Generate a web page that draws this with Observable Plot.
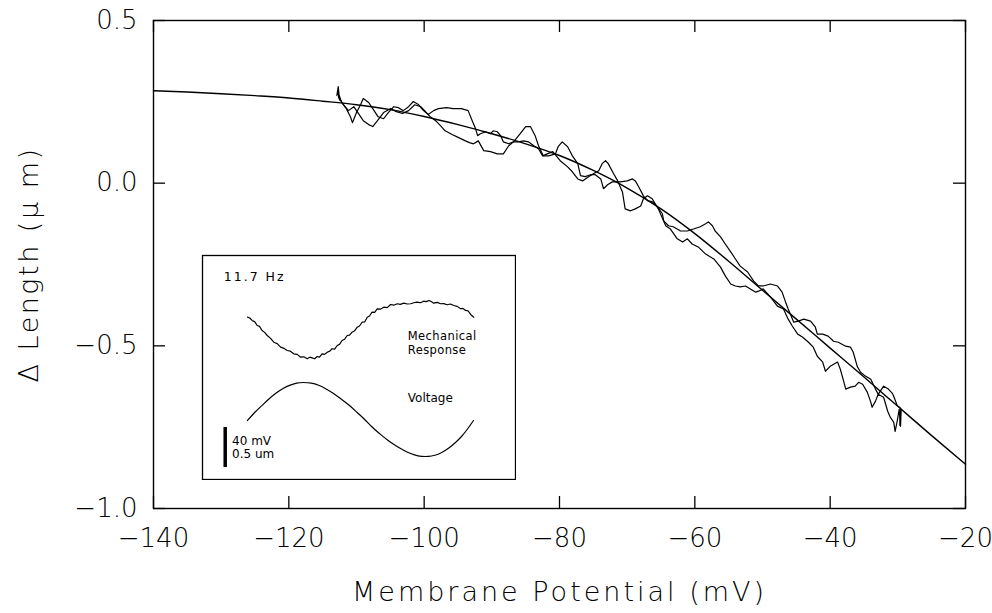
<!DOCTYPE html>
<html><head><meta charset="utf-8">
<script src="https://cdn.jsdelivr.net/npm/d3@7"></script>
<script src="https://cdn.jsdelivr.net/npm/@observablehq/plot@0.6"></script>
<style>
body{margin:0;background:#fff;}
#wrap{position:relative;width:992px;height:613px;}
.inset{position:absolute;left:201px;top:254px;}
</style></head><body><div id="wrap"></div>
<script>
// ---------- data ----------
const xTicks = [-140, -120, -100, -80, -60, -40, -20];
const yTicks = [0.5, 0.0, -0.5, -1.0];

// Boltzmann-like fit curve (mV, µm)
const fitMV = [-140,-135,-130,-125,-120,-115,-110,-105,-100,-95,-90,-85,-80,-75,-70,-65,-60,-55,-50,-45,-40,-35,-30,-25,-20];
const fitDL = [0.284,0.280,0.275,0.269,0.262,0.252,0.241,0.226,0.205,0.180,0.152,0.121,0.085,0.039,-0.015,-0.079,-0.155,-0.240,-0.329,-0.418,-0.507,-0.596,-0.686,-0.776,-0.864];

// measured trace, first half-cycle [mV, µm]
const traceUp = [[-112.9,0.270],[-112.7,0.297],[-112.5,0.255],[-112.8,0.285],[-112.2,0.248],[-111.5,0.229],[-110.9,0.204],[-110.6,0.186],[-110.0,0.217],[-109.4,0.241],[-109.0,0.260],[-108.2,0.248],[-107.5,0.226],[-106.8,0.204],[-106.0,0.198],[-105.3,0.217],[-104.5,0.235],[-103.8,0.232],[-103.1,0.223],[-102.3,0.235],[-101.6,0.251],[-100.8,0.241],[-100.1,0.223],[-99.4,0.211],[-98.6,0.223],[-97.9,0.229],[-96.7,0.232],[-95.7,0.229],[-94.5,0.229],[-93.5,0.223],[-92.9,0.192],[-92.4,0.167],[-92.1,0.146],[-91.7,0.152],[-90.9,0.158],[-90.2,0.152],[-89.8,0.161],[-89.2,0.158],[-88.7,0.146],[-88.3,0.127],[-87.5,0.121],[-86.8,0.127],[-85.8,0.152],[-85.0,0.174],[-84.3,0.174],[-83.6,0.146],[-83.1,0.115],[-82.4,0.084],[-81.6,0.084],[-80.6,0.090],[-80.2,0.112],[-79.6,0.127],[-78.8,0.112],[-78.1,0.084],[-77.3,0.060],[-76.9,0.023],[-76.2,0.020],[-75.4,0.026],[-74.7,0.026],[-73.9,0.013],[-73.5,-0.017],[-72.9,-0.005],[-72.2,0.004],[-71.0,0.004],[-70.0,0.007],[-69.2,0.013],[-68.8,0.007],[-68.3,-0.011],[-67.6,-0.039],[-67.0,-0.054],[-66.3,-0.057],[-65.5,-0.073],[-64.8,-0.094],[-64.6,-0.116],[-63.9,-0.131],[-63.2,-0.134],[-62.1,-0.147],[-61.1,-0.147],[-60.2,-0.141],[-59.2,-0.134],[-58.4,-0.125],[-58.0,-0.119],[-57.4,-0.131],[-57.0,-0.147],[-56.2,-0.165],[-55.5,-0.187],[-54.7,-0.211],[-54.0,-0.233],[-53.3,-0.255],[-52.2,-0.273],[-51.3,-0.301],[-50.6,-0.316],[-49.9,-0.316],[-48.8,-0.310],[-47.8,-0.316],[-47.1,-0.335],[-46.6,-0.365],[-46.2,-0.387],[-45.4,-0.427],[-44.7,-0.424],[-43.9,-0.418],[-42.9,-0.424],[-42.2,-0.442],[-41.9,-0.464],[-41.1,-0.464],[-40.3,-0.470],[-39.5,-0.486],[-38.8,-0.489],[-37.7,-0.501],[-37.0,-0.504],[-36.6,-0.519],[-36.0,-0.563],[-35.5,-0.581],[-34.8,-0.593],[-34.0,-0.603],[-33.3,-0.633],[-32.9,-0.649],[-32.1,-0.624],[-31.4,-0.633],[-30.8,-0.646],[-30.5,-0.661],[-30.1,-0.683],[-29.6,-0.692],[-29.7,-0.744]];

// measured trace, second half-cycle [mV, µm]
const traceDown = [[-112.7,0.266],[-111.9,0.241],[-111.2,0.223],[-110.4,0.235],[-109.7,0.214],[-109.0,0.192],[-108.2,0.180],[-107.6,0.174],[-106.9,0.192],[-106.0,0.217],[-105.0,0.229],[-104.1,0.220],[-103.2,0.214],[-102.3,0.223],[-101.4,0.241],[-100.5,0.235],[-99.8,0.220],[-99.1,0.204],[-98.3,0.192],[-97.6,0.177],[-96.9,0.161],[-95.8,0.149],[-94.9,0.140],[-93.9,0.130],[-93.2,0.124],[-92.7,0.121],[-92.0,0.130],[-91.2,0.100],[-90.2,0.097],[-89.2,0.090],[-88.3,0.090],[-87.5,0.115],[-86.8,0.127],[-86.1,0.127],[-85.3,0.130],[-84.6,0.127],[-83.8,0.115],[-83.1,0.106],[-82.5,0.084],[-81.8,0.090],[-81.0,0.097],[-79.9,0.069],[-78.8,0.050],[-78.1,0.035],[-77.3,0.013],[-76.6,0.007],[-75.7,0.020],[-75.0,0.029],[-74.2,0.038],[-73.7,0.060],[-73.2,0.069],[-72.8,0.060],[-72.0,0.029],[-71.4,0.007],[-70.7,-0.027],[-70.3,-0.079],[-69.5,-0.085],[-68.8,-0.079],[-68.0,-0.070],[-67.6,-0.048],[-67.0,-0.039],[-66.3,-0.048],[-65.4,-0.079],[-64.3,-0.131],[-63.6,-0.141],[-62.6,-0.171],[-61.8,-0.181],[-61.1,-0.171],[-60.4,-0.187],[-59.5,-0.196],[-58.4,-0.218],[-57.2,-0.233],[-56.2,-0.258],[-55.5,-0.285],[-54.7,-0.310],[-54.0,-0.316],[-53.3,-0.319],[-52.5,-0.316],[-51.8,-0.325],[-51.0,-0.335],[-50.6,-0.332],[-49.9,-0.325],[-48.8,-0.350],[-47.8,-0.378],[-46.9,-0.387],[-46.2,-0.418],[-45.6,-0.439],[-44.8,-0.464],[-44.1,-0.473],[-43.2,-0.489],[-42.5,-0.504],[-41.9,-0.532],[-41.1,-0.550],[-40.7,-0.578],[-40.0,-0.563],[-38.9,-0.550],[-38.5,-0.572],[-38.0,-0.609],[-37.7,-0.633],[-37.0,-0.627],[-36.3,-0.624],[-35.8,-0.612],[-35.2,-0.618],[-34.5,-0.643],[-34.0,-0.673],[-33.8,-0.689],[-33.3,-0.670],[-32.9,-0.649],[-32.1,-0.658],[-31.5,-0.701],[-31.1,-0.720],[-30.6,-0.735],[-30.4,-0.763],[-30.1,-0.732],[-29.8,-0.695],[-29.6,-0.747],[-29.5,-0.695]];

// inset: 11.7 Hz stimulus — time (ms) vs voltage (mV)
const voltageTrace = [[0,-72],[2.5,-64],[4.9,-57.4],[7.4,-50.8],[9.8,-45.1],[12.3,-40.3],[14.7,-36.9],[17.2,-34.6],[19.6,-34],[22.3,-34.6],[24.9,-36.8],[27.5,-40.4],[30.1,-45],[32.9,-50.8],[35.7,-57],[38.4,-64],[41.0,-71],[43.6,-78.5],[46.2,-85],[49.0,-91.5],[51.8,-97],[54.5,-101.5],[57.1,-105],[59.7,-107.3],[62.3,-108],[64.4,-107.5],[66.5,-106],[68.6,-103],[70.7,-99],[72.8,-94],[74.9,-88],[77.0,-80.5],[79.1,-72]];
// inset: time (ms) vs mechanical response (µm)
const mechTrace = [[0.0,0.000],[0.8,-0.010],[1.6,-0.041],[2.5,-0.055],[3.4,-0.104],[4.2,-0.115],[5.1,-0.166],[6.0,-0.190],[6.9,-0.229],[8.0,-0.262],[9.2,-0.313],[10.4,-0.330],[11.6,-0.375],[12.8,-0.390],[13.9,-0.416],[15.0,-0.425],[16.2,-0.458],[17.4,-0.465],[18.6,-0.500],[19.7,-0.495],[20.9,-0.520],[21.8,-0.500],[22.6,-0.508],[23.5,-0.520],[24.4,-0.491],[25.2,-0.500],[26.1,-0.458],[27.0,-0.465],[27.9,-0.438],[28.8,-0.425],[29.6,-0.395],[30.5,-0.400],[31.4,-0.354],[32.2,-0.340],[33.1,-0.291],[34.0,-0.275],[34.9,-0.229],[35.7,-0.225],[36.6,-0.188],[37.5,-0.170],[38.4,-0.125],[39.2,-0.110],[40.1,-0.063],[41.0,-0.060],[41.9,0.000],[42.7,0.015],[43.6,0.063],[44.5,0.060],[45.4,0.105],[46.5,0.100],[47.7,0.125],[48.9,0.120],[50.1,0.159],[51.2,0.150],[52.4,0.168],[53.5,0.160],[54.7,0.175],[55.9,0.165],[57.1,0.168],[58.2,0.180],[59.4,0.188],[60.5,0.180],[61.7,0.200],[62.6,0.195],[63.5,0.209],[64.3,0.195],[65.2,0.175],[66.4,0.185],[67.6,0.168],[68.7,0.170],[69.9,0.155],[71.0,0.165],[72.2,0.146],[73.4,0.135],[74.6,0.105],[75.4,0.110],[76.3,0.084],[77.2,0.080],[78.1,0.034],[79.2,0.000]];
// inset annotations (time ms, mV)
const insetLabels = [
  {t: -8.3, v: 71.5, label: "11.7 Hz", size: 12.5},
  {t: 56.1, v: 12, label: "Mechanical", size: 11.5},
  {t: 56.1, v: -1.5, label: "Response", size: 11.5},
  {t: 56.1, v: -49.5, label: "Voltage", size: 12},
  {t: -5.4, v: -92.5, label: "40 mV", size: 12},
  {t: -5.4, v: -106, label: "0.5 um", size: 12}
];
const scaleBar = [{t: -7.8, lo: -119, hi: -79}];

// ---------- main chart ----------
const minus = s => s.replace("-", "\u2212");
const fmtX = d => minus(String(d));
const fmtY = d => minus(d.toFixed(1));
const fit = fitMV.map((v, i) => ({mV: v, dL: fitDL[i]}));
const W = 992, H = 613, mt = 20, mb = 105, ml = 153, mr = 27, tick = 12;
const innerW = W - ml - mr, innerH = H - mt - mb;

const main = Plot.plot({
  width: W, height: H,
  marginTop: mt, marginBottom: mb, marginLeft: ml, marginRight: mr,
  style: {fontFamily: "'DejaVu Sans', sans-serif", background: "white", color: "black"},
  x: {domain: [-140, -20]},
  y: {domain: [-1.0, 0.5]},
  marks: [
    Plot.frame({stroke: "black", strokeWidth: 1.4}),
    // inward tick marks on all four sides
    Plot.tickX(xTicks, {x: d => d, insetTop: innerH - tick, stroke: "black", strokeWidth: 1.3}),
    Plot.tickX(xTicks, {x: d => d, insetBottom: innerH - tick, stroke: "black", strokeWidth: 1.3}),
    Plot.tickY(yTicks, {y: d => d, insetRight: innerW - tick, stroke: "black", strokeWidth: 1.3}),
    Plot.tickY(yTicks, {y: d => d, insetLeft: innerW - tick, stroke: "black", strokeWidth: 1.3}),
    Plot.axisX(xTicks, {anchor: "bottom", tickSize: 0, tickPadding: 20, tickFormat: fmtX, fontSize: 26, fontWeight: 200, label: null}),
    Plot.axisY(yTicks, {anchor: "left", tickSize: 0, tickPadding: 16, tickFormat: fmtY, fontSize: 26, fontWeight: 200, label: null}),
    Plot.line(fit, {x: "mV", y: "dL", curve: "monotone-x", stroke: "black", strokeWidth: 1.4}),
    Plot.line(traceUp, {x: d => d[0], y: d => d[1], stroke: "black", strokeWidth: 1.2}),
    Plot.line(traceDown, {x: d => d[0], y: d => d[1], stroke: "black", strokeWidth: 1.2}),
    Plot.text(["Membrane Potential (mV)"], {text: d => d, frameAnchor: "bottom", textAnchor: "middle", lineAnchor: "middle", dy: 84, fontSize: 27, fontWeight: 200}),
    Plot.text(["\u0394 Length (\u03bc m)"], {text: d => d, frameAnchor: "left", textAnchor: "middle", lineAnchor: "middle", dx: -124, rotate: -90, fontSize: 27, fontWeight: 200})
  ]
});
main.querySelectorAll("text").forEach(t => {
  if (t.textContent.startsWith("Membrane")) t.setAttribute("letter-spacing", "3");
  if (t.textContent.startsWith("\u0394")) t.setAttribute("letter-spacing", "2.5");
});
const wrap = document.getElementById("wrap");
wrap.appendChild(main);

// ---------- inset ----------
const insetX = {domain: [-15.75, 93.8], axis: null};
const insetV = Plot.plot({
  width: 315, height: 226, margin: 1,
  style: {fontFamily: "'DejaVu Sans', sans-serif", background: "white", color: "black"},
  x: insetX,
  y: {domain: [-131, 93], axis: null},
  marks: [
    Plot.frame({stroke: "black", strokeWidth: 1.3}),
    Plot.line(voltageTrace, {x: d => d[0], y: d => d[1], curve: "natural", stroke: "black", strokeWidth: 1.2}),
    Plot.ruleX(scaleBar, {x: "t", y1: "lo", y2: "hi", stroke: "black", strokeWidth: 3.5}),
    Plot.text(insetLabels, {x: "t", y: "v", text: "label", fontSize: d => d.size, textAnchor: "start", lineAnchor: "middle", fill: "black"})
  ]
});
insetV.querySelectorAll("text").forEach(t => {
  if (t.textContent === "11.7 Hz") t.setAttribute("letter-spacing", "2");
  if (t.textContent === "Mechanical" || t.textContent === "Response") t.setAttribute("letter-spacing", "0.4");
});
insetV.classList.add("inset");
wrap.appendChild(insetV);

const insetM = Plot.plot({
  width: 315, height: 226, margin: 1,
  style: {background: "transparent"},
  x: insetX,
  y: {domain: [-2.029, 0.771], axis: null},
  marks: [
    Plot.line(mechTrace, {x: d => d[0], y: d => d[1], stroke: "black", strokeWidth: 1.2})
  ]
});
insetM.classList.add("inset");
wrap.appendChild(insetM);
</script></body></html>
